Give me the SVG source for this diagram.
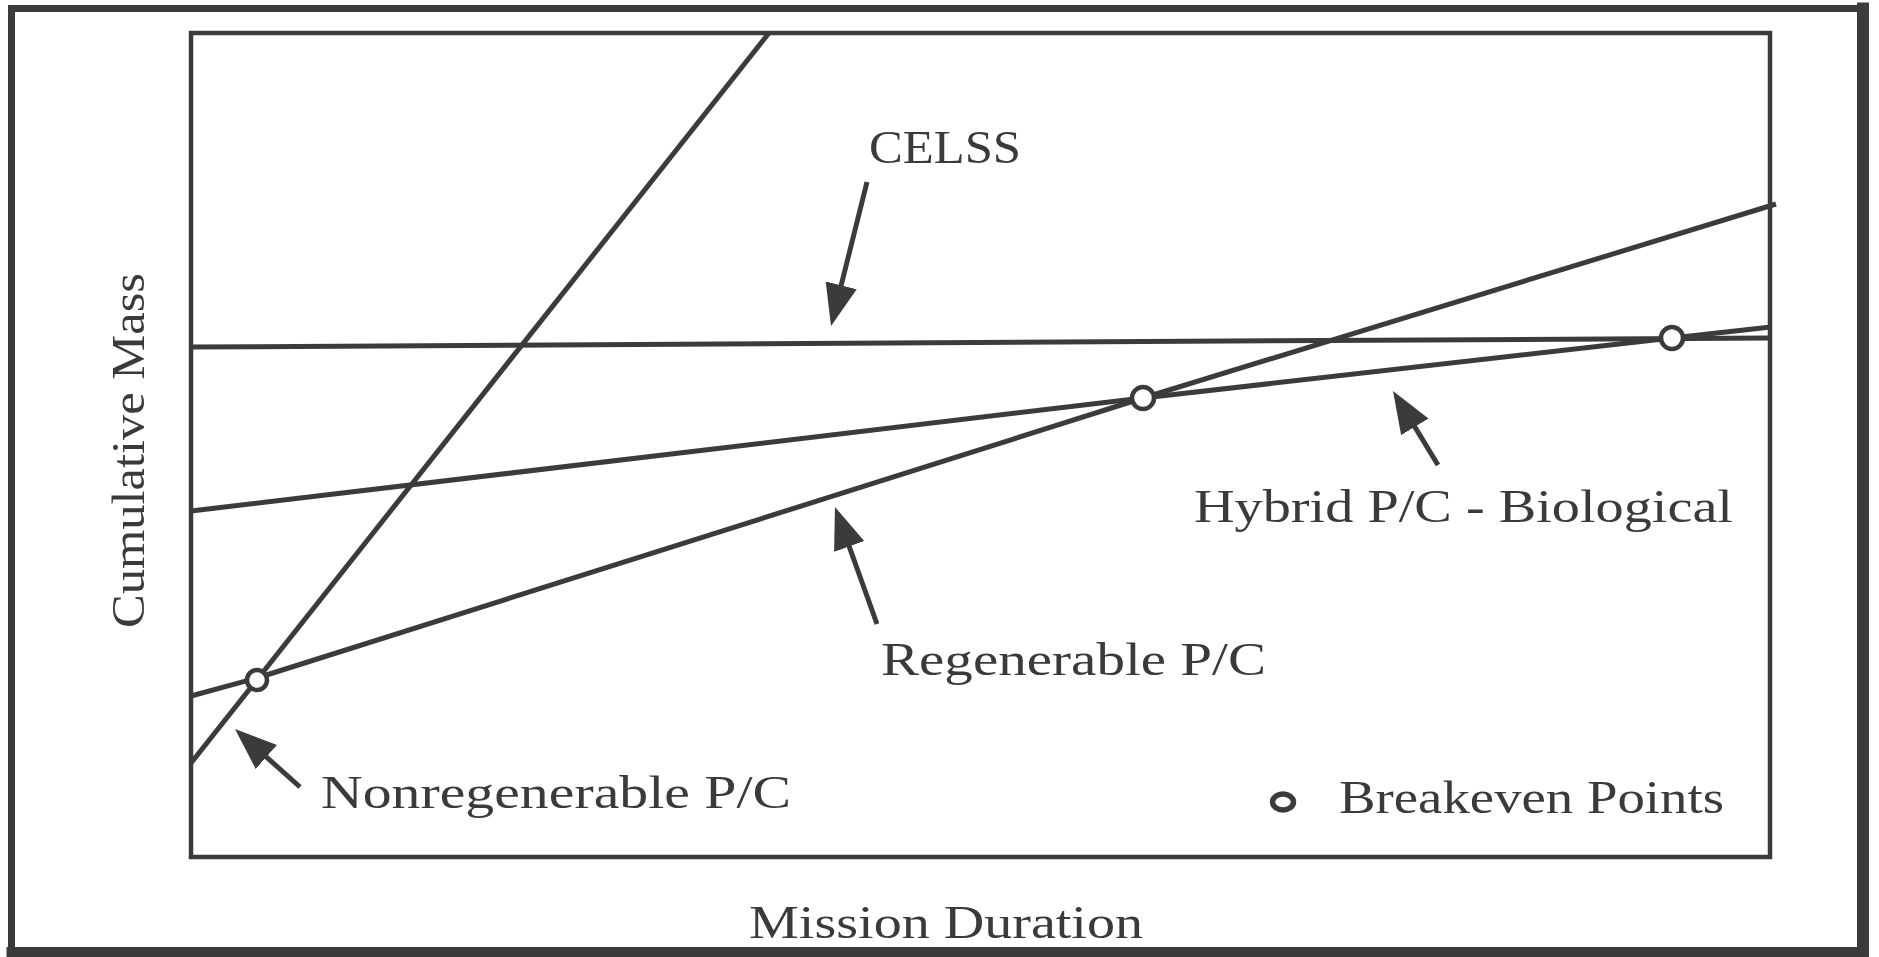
<svg xmlns="http://www.w3.org/2000/svg" width="1879" height="957" viewBox="0 0 1879 957">
  <defs>
    <style>
      .ink { stroke: #3b3b3b; fill: none; }
      .curve { stroke: #3b3b3b; fill: none; stroke-width: 5; stroke-linejoin: round; }
      .pt { stroke: #3b3b3b; stroke-width: 4.5; fill: #ffffff; }
      .lbl { font-family: "Liberation Serif", "DejaVu Serif", serif; font-size: 46px; fill: #3a3a3a; }
      .ptr { stroke: #3b3b3b; stroke-width: 5; fill: none; marker-end: url(#head); }
    </style>
    <marker id="head" markerUnits="userSpaceOnUse" markerWidth="44" markerHeight="36" viewBox="0 -18 44 36" refX="12" refY="0" orient="auto">
      <path d="M0,-16 L42,0 L0,16 Z" fill="#3b3b3b"/>
    </marker>
  </defs>

  <rect x="0" y="0" width="1879" height="957" fill="#ffffff"/>

  <!-- outer border -->
  <g id="frame" class="ink" stroke-linecap="square">
    <line x1="11.5" y1="8.5" x2="1863" y2="8.5" stroke-width="7"/>
    <line x1="11.5" y1="8.5" x2="11.5" y2="952" stroke-width="7"/>
    <line x1="1863" y1="8.5" x2="1863" y2="952" stroke-width="12"/>
    <line x1="11.5" y1="952" x2="1863" y2="952" stroke-width="10"/>
  </g>

  <!-- plot area -->
  <g id="plot-area">
    <rect class="ink" x="191" y="33" width="1579" height="824" stroke-width="4.5"/>
  </g>

  <!-- cost curves -->
  <g id="curves">
    <path id="curve-nonregenerable" class="curve" d="M191,763 L769,33"/>
    <path id="curve-celss" class="curve" stroke-width="4.5" d="M191,347 L1770,338"/>
    <path id="curve-hybrid" class="curve" d="M191,511 L1143,398 L1672,338 L1771,327"/>
    <path id="curve-regenerable" class="curve" d="M191,696 L257,678 L1143,398 L1776,204"/>
  </g>

  <!-- breakeven points -->
  <g id="breakeven-points">
    <circle id="be-1" class="pt" cx="257" cy="680" r="10"/>
    <circle id="be-2" class="pt" cx="1143" cy="398" r="11"/>
    <circle id="be-3" class="pt" cx="1672" cy="338" r="11"/>
  </g>

  <!-- label pointers -->
  <g id="connectors">
    <line class="ptr" x1="867" y1="182" x2="838.3" y2="296.9"/>
    <line class="ptr" x1="1438" y1="465" x2="1408.6" y2="416.6"/>
    <line class="ptr" x1="877" y1="624" x2="845.1" y2="535.2"/>
    <line class="ptr" x1="300" y1="787" x2="257.4" y2="749"/>
  </g>

  <g id="label-celss">
    <text class="lbl" x="869" y="163" textLength="152" lengthAdjust="spacingAndGlyphs">CELSS</text>
  </g>
  <g id="label-hybrid">
    <text class="lbl" x="1194" y="522" textLength="539" lengthAdjust="spacingAndGlyphs">Hybrid P/C - Biological</text>
  </g>
  <g id="label-regenerable">
    <text class="lbl" x="881" y="675" textLength="385" lengthAdjust="spacingAndGlyphs">Regenerable P/C</text>
  </g>
  <g id="label-nonregenerable">
    <text class="lbl" x="321" y="808" textLength="470" lengthAdjust="spacingAndGlyphs">Nonregenerable P/C</text>
  </g>
  <g id="legend">
    <ellipse class="ink" cx="1283" cy="802" rx="10.5" ry="8" stroke-width="5.5"/>
    <text class="lbl" x="1339" y="813" textLength="385" lengthAdjust="spacingAndGlyphs">Breakeven Points</text>
  </g>

  <!-- axis titles -->
  <g id="axis-x">
    <text class="lbl" x="749" y="938" textLength="394" lengthAdjust="spacingAndGlyphs">Mission Duration</text>
  </g>
  <g id="axis-y">
    <text class="lbl" transform="translate(144,628) rotate(-90)" x="0" y="0" font-size="55" textLength="355" lengthAdjust="spacingAndGlyphs">Cumulative Mass</text>
  </g>
</svg>
